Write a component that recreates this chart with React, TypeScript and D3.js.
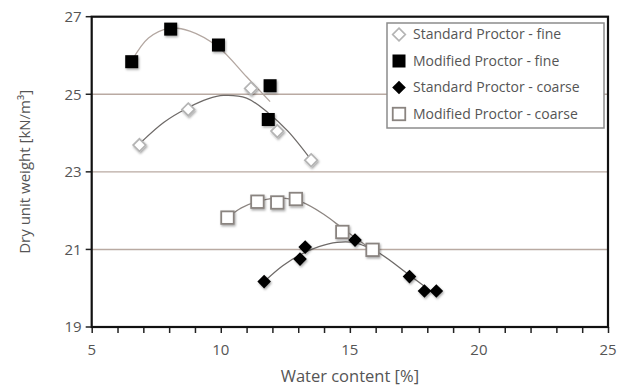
import { useRef, useEffect } from 'react';
import * as d3 from 'd3';

// measured points: water content [%] / dry unit weight [kN/m3]
const stdFineW = [6.85, 8.74, 11.17, 12.19, 13.5];
const stdFineG = [23.69, 24.61, 25.15, 24.05, 23.3];
const modFineW = [6.55, 8.06, 9.91, 11.91, 11.84];
const modFineG = [25.84, 26.68, 26.27, 25.22, 24.35];
const stdCoarseW = [11.68, 13.07, 13.27, 15.2, 17.31, 17.89, 18.35];
const stdCoarseG = [20.17, 20.75, 21.06, 21.24, 20.3, 19.93, 19.93];
const modCoarseW = [10.26, 11.42, 12.19, 12.91, 14.71, 15.88];
const modCoarseG = [21.82, 22.23, 22.21, 22.3, 21.45, 20.99];

// trend curves
const stdFineCurveW = [6.94, 7.8, 8.75, 9.5, 10.1, 11.0, 11.84, 12.6, 13.5];
const stdFineCurveG = [23.78, 24.28, 24.66, 24.88, 24.97, 24.9, 24.52, 24.05, 23.31];
const modFineCurveW = [6.55, 7.2, 8.0, 8.8, 9.9, 11.0, 11.91];
const modFineCurveG = [25.86, 26.45, 26.7, 26.63, 26.22, 25.45, 24.81];
const stdCoarseCurveW = [11.68, 12.4, 13.1, 13.8, 14.5, 15.2, 16.1, 17.3, 18.35];
const stdCoarseCurveG = [20.17, 20.58, 20.87, 21.07, 21.18, 21.17, 20.92, 20.34, 19.82];
const modCoarseCurveW = [10.26, 10.8, 11.45, 12.3, 13.1, 14.0, 14.8, 15.88];
const modCoarseCurveG = [21.82, 22.07, 22.24, 22.32, 22.23, 21.9, 21.5, 20.98];

const xTicks = [5, 10, 15, 20, 25];
const yTicks = [19, 21, 23, 25, 27];
const gridLevels = [21, 23, 25];
const legendLabels = [
  'Standard Proctor - fine',
  'Modified Proctor - fine',
  'Standard Proctor - coarse',
  'Modified Proctor - coarse',
];

const width = 632;
const height = 387;
const marginLeft = 91.7;
const marginRight = 24;
const marginTop = 16.7;
const marginBottom = 60;
const font = '"Open Sans", "Noto Sans", sans-serif';
const textColor = '#555';

function Marker({ kind, x, y }: { kind: string; x: number; y: number }) {
  if (kind === 'openDiamond') {
    const r = 6.3;
    return (
      <path
        d={`M${x},${y - r}L${x + r},${y}L${x},${y + r}L${x - r},${y}Z`}
        fill="white"
        stroke="#b4b4b4"
        strokeWidth={1.7}
      />
    );
  }
  if (kind === 'blackSquare') {
    const s = 13;
    return <rect x={x - s / 2} y={y - s / 2} width={s} height={s} fill="#000" />;
  }
  if (kind === 'blackDiamond') {
    const r = 6.8;
    return <path d={`M${x},${y - r}L${x + r},${y}L${x},${y + r}L${x - r},${y}Z`} fill="#000" />;
  }
  const s = 12.5;
  return (
    <rect x={x - s / 2} y={y - s / 2} width={s} height={s} fill="white" stroke="#8a8480" strokeWidth={1.8} />
  );
}

export default function App() {
  const gx = useRef<SVGGElement>(null);

  const xScale = d3.scaleLinear().domain([5, 25]).range([marginLeft, width - marginRight]);
  const yScale = d3.scaleLinear().domain([19, 27]).range([height - marginBottom, marginTop]);

  const line = d3
    .line<[number, number]>()
    .x((d) => xScale(d[0]))
    .y((d) => yScale(d[1]))
    .curve(d3.curveCatmullRom.alpha(0.5));

  const zip = (a: number[], b: number[]) => a.map((v, i) => [v, b[i]] as [number, number]);

  useEffect(() => {
    const axis = d3
      .axisBottom(xScale)
      .tickValues(d3.range(5, 26))
      .tickSize(6)
      .tickFormat(() => '');
    const g = d3.select(gx.current);
    g.call(axis as any);
    g.select('.domain').remove();
    g.selectAll('line').attr('stroke', '#222').attr('stroke-width', 1.5);
  }, []);

  const series = [
    { kind: 'openDiamond', pts: zip(stdFineW, stdFineG) },
    { kind: 'blackSquare', pts: zip(modFineW, modFineG) },
    { kind: 'blackDiamond', pts: zip(stdCoarseW, stdCoarseG) },
    { kind: 'openSquare', pts: zip(modCoarseW, modCoarseG) },
  ];

  const curves = [
    { pts: zip(modFineCurveW, modFineCurveG), color: '#b3a7a1' },
    { pts: zip(stdFineCurveW, stdFineCurveG), color: '#6e6a68' },
    { pts: zip(modCoarseCurveW, modCoarseCurveG), color: '#8c8581' },
    { pts: zip(stdCoarseCurveW, stdCoarseCurveG), color: '#6e6a68' },
  ];

  const x0 = xScale(5);
  const x1 = xScale(25);
  const y0 = yScale(19);
  const y1 = yScale(27);

  return (
    <svg
      width={width}
      height={height}
      viewBox={`0 0 ${width} ${height}`}
      style={{ position: 'absolute', left: 0, top: 0, background: 'white' }}
    >
      <defs>
        <filter id="shadow" x="-50%" y="-50%" width="200%" height="200%">
          <feDropShadow dx="1" dy="1.5" stdDeviation="1.3" floodColor="#000" floodOpacity="0.35" />
        </filter>
      </defs>

      {gridLevels.map((v) => (
        <line key={v} x1={x0} x2={x1} y1={yScale(v)} y2={yScale(v)} stroke="#b9aaa2" strokeWidth={1.4} />
      ))}

      <g ref={gx} transform={`translate(0, ${y0})`} />

      {yTicks.map((v) => (
        <g key={v}>
          <line x1={x0 - 6} x2={x0} y1={yScale(v)} y2={yScale(v)} stroke="#222" strokeWidth={1.5} />
          <text
            x={x0 - 10}
            y={yScale(v)}
            dy="0.35em"
            textAnchor="end"
            fontFamily={font}
            fontSize={15}
            fill={textColor}
          >
            {v}
          </text>
        </g>
      ))}
      {xTicks.map((v) => (
        <text
          key={v}
          x={xScale(v)}
          y={y0 + 23}
          dy="0.35em"
          textAnchor="middle"
          fontFamily={font}
          fontSize={15}
          fill={textColor}
        >
          {v}
        </text>
      ))}

      {curves.map((c, i) => (
        <path key={i} d={line(c.pts) ?? ''} fill="none" stroke={c.color} strokeWidth={1.3} />
      ))}

      <g filter="url(#shadow)">
        {series.map((s) =>
          s.pts.map((p, i) => <Marker key={s.kind + i} kind={s.kind} x={xScale(p[0])} y={yScale(p[1])} />)
        )}
      </g>

      <rect x={x0} y={y1} width={x1 - x0} height={y0 - y1} fill="none" stroke="#111" strokeWidth={2.2} />

      <g>
        <rect x={387} y={23} width={217} height={105} fill="white" stroke="#8c8c8c" strokeWidth={1.5} />
        {legendLabels.map((label, i) => {
          const cy = 34.5 + i * 26.5;
          return (
            <g key={label}>
              <Marker kind={series[i].kind} x={399} y={cy} />
              <text x={413} y={cy} dy="0.35em" fontFamily={font} fontSize={14} fill={textColor}>
                {label}
              </text>
            </g>
          );
        })}
      </g>

      <text
        x={(x0 + x1) / 2}
        y={376}
        dy="0.35em"
        textAnchor="middle"
        fontFamily={font}
        fontSize={16.5}
        fill={textColor}
      >
        Water content [%]
      </text>
      <text
        transform={`translate(25, ${(y0 + y1) / 2}) rotate(-90)`}
        dy="0.35em"
        textAnchor="middle"
        fontFamily={font}
        fontSize={15}
        fill={textColor}
      >
        Dry unit weight [kN/m³]
      </text>
    </svg>
  );
}
